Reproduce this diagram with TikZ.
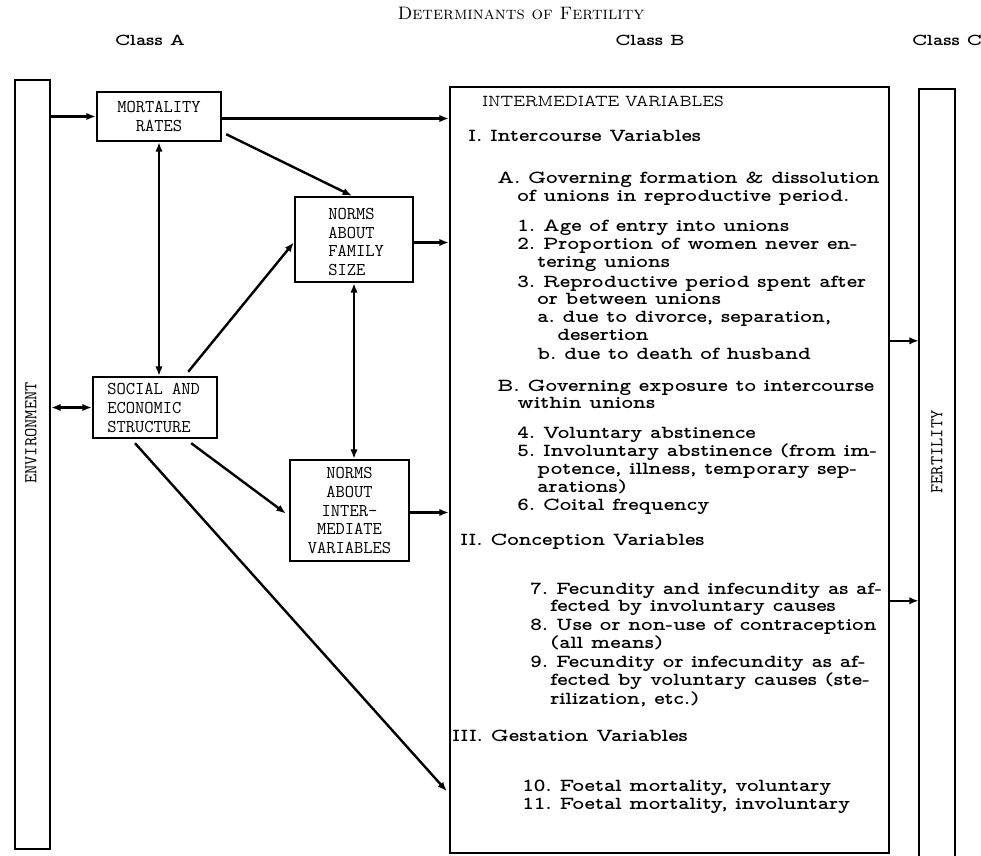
\documentclass[tikz,border=0pt]{standalone}
\usepackage{fontspec}
\usetikzlibrary{calc,fit,arrows.meta}
% proportional typewriter faces of Latin Modern, widened like typed text
\newfontfamily\propb[FakeStretch=1.2]{lmmonoproplt10-bold.otf}
\newfontfamily\propr{lmmonoprop10-regular.otf}

\begin{document}
\frenchspacing
\begin{tikzpicture}[x=0.75pt,y=-0.75pt,
  box/.style={draw, line width=1.8pt, inner sep=0pt},
  lbl/.style={font=\ttfamily\fontsize{13.5}{14.2}\selectfont, inner sep=0pt},
  item/.style={font=\propb\fontsize{13.8}{14}\selectfont, anchor=base west, inner sep=0pt},
  head/.style={font=\propr\fontsize{12.5}{14}\selectfont, anchor=base west, inner sep=0pt},
  cls/.style={font=\propb\fontsize{12.5}{13}\selectfont, inner sep=0pt},
  tip/.tip={Latex[length=7pt,width=5.5pt]},
  arr/.style={line width=1.8pt, -tip},
  dbl/.style={line width=1.8pt, tip-tip},
]
\useasboundingbox (0,0) rectangle (981,856);

% headings
\node[font=\fontsize{13.5}{15}\selectfont, inner sep=0pt] (title) at (521,13) {\textsc{Determinants of Fertility}};
\node[cls] (clsA) at (150,40) {Class A};
\node[cls] (clsB) at (650,40) {Class B};
\node[cls] (clsC) at (947,40) {Class C};

% outer columns
\node[box, fit={(15,80) (50,849)}] (env) {};
\node[lbl, rotate=90] (envT) at (31,433) {ENVIRONMENT};

\node[inner sep=0pt, fit={(919,89) (955,856)}] (fert) {};
\draw[line width=1.8pt] (fert.south west) |- (fert.north east) -- (fert.south east);
\node[lbl, rotate=90] (fertT) at (937,452) {FERTILITY};

% class A boxes
\node[box, fit={(97,92) (221,141)}] (mort) {};
\node[lbl, align=center] (mortT) at (mort.center) {MORTALITY\\RATES};

\node[box, fit={(93,377) (217,438)}] (soc) {};
\node[lbl, align=left, anchor=west] (socT) at (107,408) {SOCIAL AND\\ECONOMIC\\STRUCTURE};

\node[box, fit={(295,197) (413,282)}] (fam) {};
\node[lbl, align=left, anchor=west] (famT) at (328,242) {NORMS\\ABOUT\\FAMILY\\SIZE};

\node[box, fit={(290,460) (409,561)}] (nint) {};
\node[lbl, align=center] (nintT) at (nint.center) {NORMS\\ABOUT\\INTER-\\MEDIATE\\VARIABLES};

% class B box
\node[box, fit={(450,87) (889,853)}] (big) {};

\node[head] (h0) at (482,107) {INTERMEDIATE VARIABLES};
\node[item] (h1) at (468,141) {I. Intercourse Variables};
\node[item] (l01) at (497,183) {A. Governing formation \& dissolution};
\node[item] (l02) at (517,201) {of unions in reproductive period.};
\node[item] (l03) at (517,231) {1. Age of entry into unions};
\node[item] (l04) at (517,249) {2. Proportion of women never en-};
\node[item] (l05) at (537,267) {tering unions};
\node[item] (l06) at (517,287) {3. Reproductive period spent after};
\node[item] (l07) at (537,304) {or between unions};
\node[item] (l08) at (537,322) {a. due to divorce, separation,};
\node[item] (l09) at (557,340) {desertion};
\node[item] (l10) at (537,359) {b. due to death of husband};
\node[item] (l11) at (497,391) {B. Governing exposure to intercourse};
\node[item] (l12) at (517,408) {within unions};
\node[item] (l13) at (517,438) {4. Voluntary abstinence};
\node[item] (l14) at (517,456) {5. Involuntary abstinence (from im-};
\node[item] (l15) at (537,474) {potence, illness, temporary sep-};
\node[item] (l16) at (537,492) {arations)};
\node[item] (l17) at (517,510) {6. Coital frequency};
\node[item] (h2) at (460,545) {II. Conception Variables};
\node[item] (l18) at (530,594) {7. Fecundity and infecundity as af-};
\node[item] (l19) at (550,611) {fected by involuntary causes};
\node[item] (l20) at (530,630) {8. Use or non-use of contraception};
\node[item] (l21) at (550,648) {(all means)};
\node[item] (l22) at (530,667) {9. Fecundity or infecundity as af-};
\node[item] (l23) at (550,685) {fected by voluntary causes (ste-};
\node[item] (l24) at (550,704) {rilization, etc.)};
\node[item] (h3) at (452,741) {III. Gestation Variables};
\node[item] (l25) at (522,791) {10. Foetal mortality, voluntary};
\node[item] (l26) at (522,809) {11. Foetal mortality, involuntary};

% connectors
\draw[arr] (mort.west -| env.east) -- (mort.west);
\draw[arr] ($(mort.east)+(0,2)$) coordinate (m1) -- (m1 -| big.west);
\draw[arr] ($(mort.south east)+(4,-8)$) -- ($(fam.north)+(-2,0)$);
\draw[dbl] (mort.south) -- (mort.south |- soc.north);
\draw[dbl] (soc.west -| env.east) -- (soc.west);
\draw[arr] ($(soc.north east)+(-30,-4)$) -- ($(fam.west)+(0,3)$);
\draw[arr] ($(fam.east)+(0,3)$) coordinate (f1) -- (f1 -| big.west);
\draw[dbl] (fam.south) -- (fam.south |- nint.north);
\draw[arr] ($(soc.south east)+(-27,4)$) -- ($(nint.west)+(-3,3)$);
\draw[arr] ($(nint.east)+(0,2)$) coordinate (n1) -- (n1 -| big.west);
\draw[arr] ($(soc.south)+(-20,4)$) -- ($(big.south west)+(-2,-63)$);
\draw[arr] ($(big.north east)+(0,255)$) coordinate (b1) -- (b1 -| fert.west);
\draw[arr] ($(big.north east)+(0,515)$) coordinate (b2) -- (b2 -| fert.west);
\end{tikzpicture}
\end{document}
